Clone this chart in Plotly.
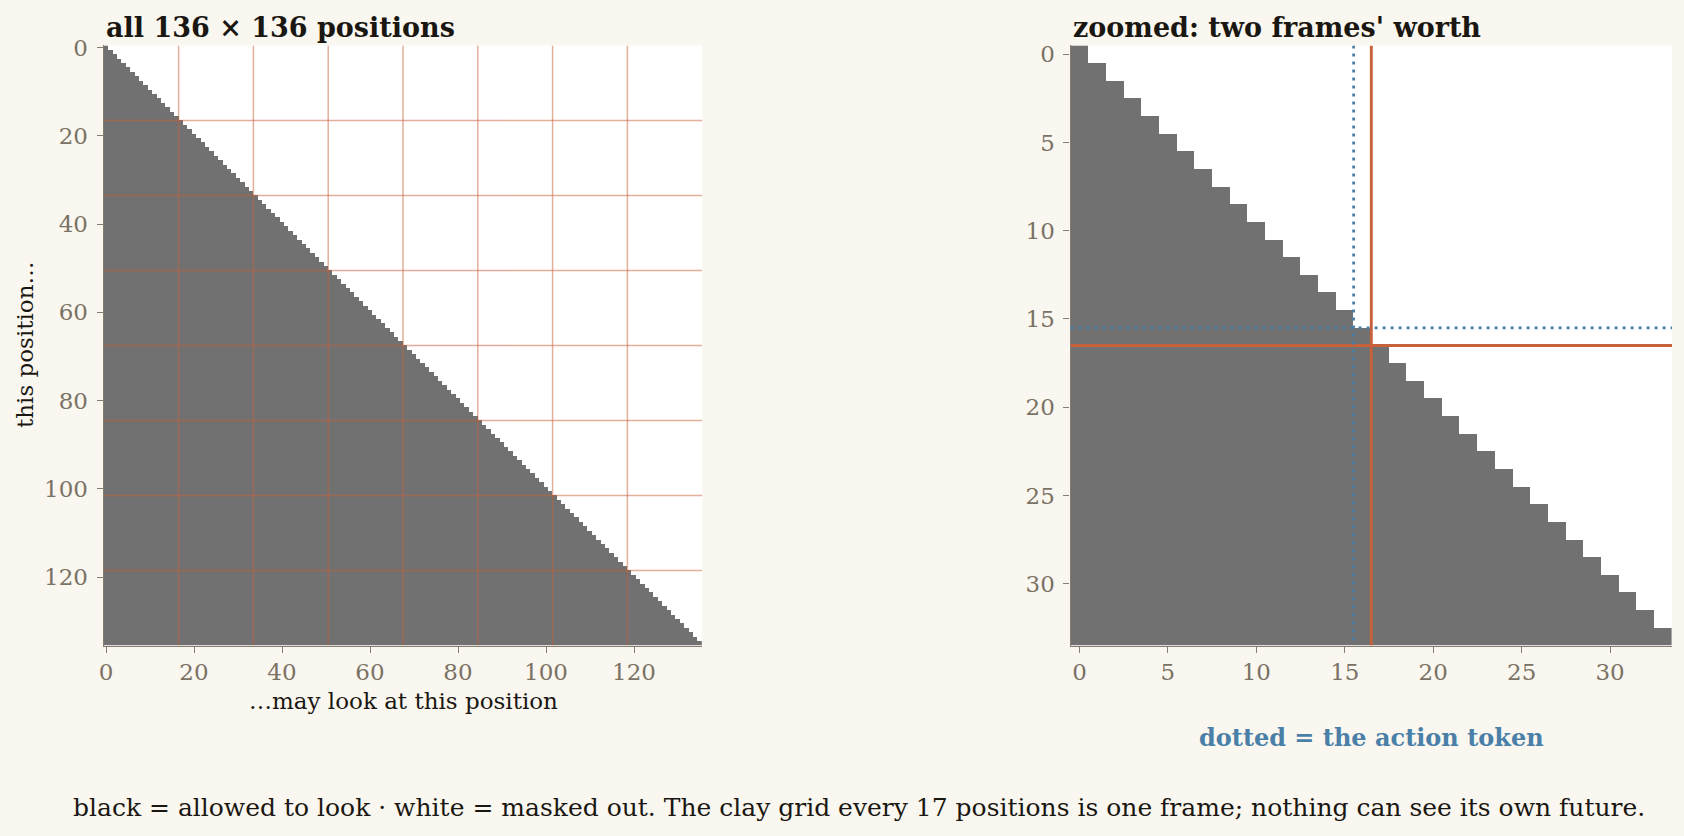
import numpy as np
import plotly.graph_objects as go

# ---- data ----
N_POS = 136          # sequence positions
FRAME = 17           # positions per frame
ZOOM_N = 34          # two frames' worth
ACTION_IDX = 15      # action token position inside the frame
LEFT_TICKS = [0, 20, 40, 60, 80, 100, 120]
RIGHT_TICKS = [0, 5, 10, 15, 20, 25, 30]

TITLE_LEFT = "all 136 × 136 positions"
TITLE_RIGHT = "zoomed: two frames' worth"
XLABEL = "…may look at this position"
YLABEL = "this position…"
NOTE = "dotted = the action token"
CAPTION = ("black = allowed to look · white = masked out. The clay grid every 17 "
           "positions is one frame; nothing can see its own future.")

# causal mask: row i may look at column j when j <= i
mask_full = np.tril(np.ones((N_POS, N_POS)))
mask_zoom = mask_full[:ZOOM_N, :ZOOM_N]

# ---- style ----
W, H = 1684, 836
BG = "#faf7f0"
GRAY = "#717171"
CLAY = "#c8603c"
BLUE = "#4a7fa8"
AXC = "#857d6e"
TICKC = "#7a7264"
TXT = "#1a1712"
FONT = "DejaVu Serif"

def px_x(v):
    return v / W

def px_y(v):
    return 1 - v / H

L_DOM = [px_x(103.8), px_x(702.2)]
R_DOM = [px_x(1070.6), px_x(1672.0)]
Y_DOM = [px_y(645.5), px_y(45.4)]

cs = [[0, "#ffffff"], [1, GRAY]]

fig = go.Figure()
fig.add_trace(go.Heatmap(z=mask_full, x=np.arange(N_POS), y=np.arange(N_POS),
                         colorscale=cs, zmin=0, zmax=1, showscale=False,
                         xaxis="x", yaxis="y", hoverinfo="skip"))
fig.add_trace(go.Heatmap(z=mask_zoom, x=np.arange(ZOOM_N), y=np.arange(ZOOM_N),
                         colorscale=cs, zmin=0, zmax=1, showscale=False,
                         xaxis="x2", yaxis="y2", hoverinfo="skip"))

# frame grid on the full view
bounds = [k * FRAME - 0.5 for k in range(1, N_POS // FRAME)]
for b in bounds:
    fig.add_shape(type="line", xref="x", yref="y", x0=b, x1=b, y0=-0.5, y1=N_POS - 0.5,
                  line=dict(color=CLAY, width=1.5), opacity=0.5, layer="above")
    fig.add_shape(type="line", xref="x", yref="y", x0=-0.5, x1=N_POS - 0.5, y0=b, y1=b,
                  line=dict(color=CLAY, width=1.5), opacity=0.5, layer="above")

# zoomed view: frame boundary + action token
fb = FRAME - 0.5
ab = ACTION_IDX + 0.5
for (x0, x1, y0, y1) in [(fb, fb, -0.5, ZOOM_N - 0.5), (-0.5, ZOOM_N - 0.5, fb, fb)]:
    fig.add_shape(type="line", xref="x2", yref="y2", x0=x0, x1=x1, y0=y0, y1=y1,
                  line=dict(color=CLAY, width=2.9), layer="above")
for (x0, x1, y0, y1) in [(ab, ab, -0.5, ZOOM_N - 0.5), (-0.5, ZOOM_N - 0.5, ab, ab)]:
    fig.add_shape(type="line", xref="x2", yref="y2", x0=x0, x1=x1, y0=y0, y1=y1,
                  line=dict(color=BLUE, width=2.7, dash="3px,5px"), layer="above")

axis_common = dict(showline=True, linecolor=AXC, linewidth=1.4, ticks="outside",
                   ticklen=6, tickwidth=1.4, tickcolor=AXC, showgrid=False,
                   zeroline=False, mirror=False, automargin=False,
                   tickfont=dict(family=FONT, size=23, color=TICKC))

fig.update_layout(
    template="none",
    width=W, height=H, autosize=False,
    paper_bgcolor=BG, plot_bgcolor="#ffffff",
    margin=dict(l=0, r=0, t=0, b=0, pad=0),
    showlegend=False,
    xaxis=dict(domain=L_DOM, anchor="y", range=[-0.5, N_POS - 0.5],
               tickvals=LEFT_TICKS, **axis_common),
    yaxis=dict(domain=Y_DOM, anchor="x", range=[N_POS - 0.5, -0.5],
               tickvals=LEFT_TICKS, ticklabelstandoff=4, **axis_common),
    xaxis2=dict(domain=R_DOM, anchor="y2", range=[-0.5, ZOOM_N - 0.5],
                tickvals=RIGHT_TICKS, **axis_common),
    yaxis2=dict(domain=Y_DOM, anchor="x2", range=[ZOOM_N - 0.5, -0.5],
                tickvals=RIGHT_TICKS, ticklabelstandoff=4, **axis_common),
    font=dict(family=FONT, color=TXT),
)

ann = [
    dict(text=f"<b>{TITLE_LEFT}</b>", x=L_DOM[0], y=px_y(28), xanchor="left",
         yanchor="middle", font=dict(size=27, color=TXT)),
    dict(text=f"<b>{TITLE_RIGHT}</b>", x=R_DOM[0], y=px_y(28), xanchor="left",
         yanchor="middle", font=dict(size=27, color=TXT)),
    dict(text=XLABEL, x=(L_DOM[0] + L_DOM[1]) / 2, y=px_y(701), xanchor="center",
         yanchor="middle", font=dict(size=23, color=TXT)),
    dict(text=YLABEL, x=px_x(25), y=px_y(345), xanchor="center", yanchor="middle",
         textangle=-90, font=dict(size=23, color=TXT)),
    dict(text=f"<b>{NOTE}</b>", x=(R_DOM[0] + R_DOM[1]) / 2, y=px_y(737),
         xanchor="center", yanchor="middle", font=dict(size=24, color=BLUE)),
    dict(text=CAPTION, x=px_x(859), y=px_y(807), xanchor="center", yanchor="middle",
         font=dict(size=25, color=TXT)),
]
for a in ann:
    a.update(xref="paper", yref="paper", showarrow=False, font_family=FONT)
    fig.add_annotation(**a)

fig.write_html("out.html", config={"displayModeBar": False},
               post_script="document.body.style.margin='0';"
                           "document.documentElement.style.background='%s';" % BG)
